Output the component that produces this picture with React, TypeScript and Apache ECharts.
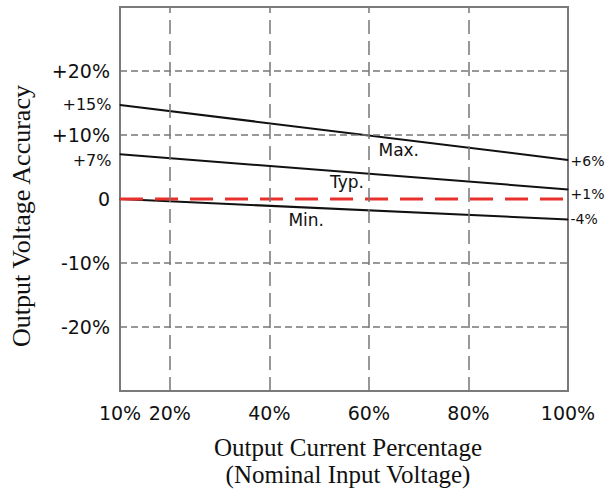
import React, { useEffect, useRef } from 'react';
import * as echarts from 'echarts';

// ---- data ----
const loadX = [10, 100];
const maxValues = [14.7, 6.1];
const typValues = [7.0, 1.5];
const minValues = [0, -3.2];
const nominalValues = [0, 0];
const maxLabels = ['+15%', '+6%'];
const typLabels = ['+7%', '+1%'];
const minLabels = ['', '-4%'];
const xTickLabels = [10, 20, 40, 60, 80, 100];
const xGridValues = [20, 40, 60, 80];
const yGridValues = [-20, -10, 10, 20];
const curveNames = ['Max.', 'Typ.', 'Min.'];
const curveNameAt = [
  [66, 7.7],
  [55.6, 2.7],
  [47.4, -3.3],
];

const SANS = 'DejaVu Sans';
const SERIF = 'Liberation Serif';

function curve(name: string, values: number[], labels: string[], nameIdx: number, leftOffsetY: number, rightOffsetY: number) {
  return {
    name,
    type: 'line',
    z: 3,
    symbol: 'circle',
    symbolSize: 1,
    itemStyle: { color: '#111' },
    lineStyle: { color: '#111', width: 2 },
    data: loadX.map((x, i) => ({
      value: [x, values[i]],
      label: {
        show: labels[i] !== '',
        position: i === 0 ? 'left' : 'right',
        distance: i === 0 ? 8 : 2,
        offset: [0, i === 0 ? leftOffsetY : rightOffsetY],
        formatter: labels[i],
        color: '#111',
        fontFamily: SANS,
        fontSize: i === 0 ? 16 : 14,
      },
    })),
    markPoint: {
      symbol: 'circle',
      symbolSize: 1,
      itemStyle: { color: 'rgba(0,0,0,0)' },
      label: {
        show: true,
        position: 'inside',
        formatter: curveNames[nameIdx],
        color: '#111',
        fontFamily: SANS,
        fontSize: 17,
      },
      data: [{ coord: curveNameAt[nameIdx] }],
    },
  };
}

export default function App() {
  const ref = useRef<HTMLDivElement>(null);
  useEffect(() => {
    const chart = echarts.init(ref.current!, null, { renderer: 'svg' });
    chart.setOption({
      animation: false,
      backgroundColor: '#fff',
      grid: {
        left: 120,
        top: 7,
        right: 38,
        bottom: 99,
        show: true,
        borderColor: '#7a7a7a',
        borderWidth: 2,
        backgroundColor: 'transparent',
      },
      xAxis: {
        type: 'value',
        min: 10,
        max: 100,
        interval: 10,
        axisLine: { show: false },
        axisTick: { show: false },
        splitLine: { show: false },
        axisLabel: {
          margin: 12,
          color: '#111',
          fontFamily: SANS,
          fontSize: 19,
          showMinLabel: true,
          showMaxLabel: true,
          formatter: (v: number) => (xTickLabels.includes(v) ? `${v}%` : ''),
        },
      },
      yAxis: {
        type: 'value',
        min: -30,
        max: 30,
        interval: 10,
        axisLine: { show: false },
        axisTick: { show: false },
        splitLine: { show: false },
        axisLabel: {
          margin: 10,
          color: '#111',
          fontFamily: SANS,
          fontSize: 19,
          formatter: (v: number) => {
            if (Math.abs(v) >= 30) return '';
            if (v === 0) return '0';
            return v > 0 ? `+${v}%` : `${v}%`;
          },
        },
      },
      graphic: [
        {
          type: 'text',
          x: 21,
          y: 216,
          rotation: Math.PI / 2,
          style: {
            text: 'Output Voltage Accuracy',
            align: 'center',
            verticalAlign: 'middle',
            font: `26px "${SERIF}"`,
            fill: '#111',
          },
        },
        {
          type: 'text',
          x: 348,
          y: 447,
          style: {
            text: 'Output Current Percentage',
            align: 'center',
            verticalAlign: 'middle',
            font: `25px "${SERIF}"`,
            fill: '#111',
          },
        },
        {
          type: 'text',
          x: 348,
          y: 474,
          style: {
            text: '(Nominal Input Voltage)',
            align: 'center',
            verticalAlign: 'middle',
            font: `25px "${SERIF}"`,
            fill: '#111',
          },
        },
      ],
      series: [
        {
          name: 'grid',
          type: 'line',
          z: 1,
          data: [],
          markLine: {
            silent: true,
            symbol: ['none', 'none'],
            label: { show: false },
            data: [
              ...xGridValues.map((v) => ({
                xAxis: v,
                lineStyle: { color: '#777', width: 1.5, type: [14, 7] },
              })),
              ...yGridValues.map((v) => ({
                yAxis: v,
                lineStyle: { color: '#777', width: 1.5, type: [7, 4] },
              })),
            ],
          },
        },
        curve('Max', maxValues, maxLabels, 0, 0, 1),
        curve('Typ', typValues, typLabels, 1, 6, 5),
        curve('Min', minValues, minLabels, 2, 0, 0),
        {
          name: 'Nominal',
          type: 'line',
          z: 4,
          showSymbol: false,
          lineStyle: { color: '#e8302c', width: 3, type: [23, 12] },
          data: loadX.map((x, i) => [x, nominalValues[i]]),
        },
      ],
    });
    return () => chart.dispose();
  }, []);
  return <div ref={ref} style={{ position: 'absolute', left: 0, top: 0, width: 606, height: 490 }} />;
}
